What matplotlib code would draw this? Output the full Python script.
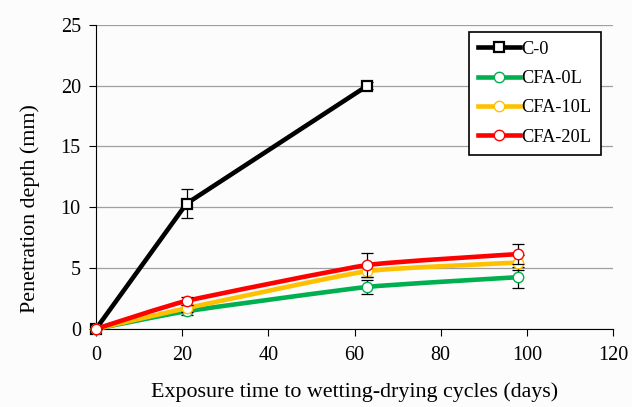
import numpy as np
import matplotlib
matplotlib.use("Agg")
import matplotlib.pyplot as plt
from matplotlib.path import Path
from matplotlib.patches import PathPatch
from matplotlib.lines import Line2D

plt.rcParams['font.family'] = ['Liberation Serif', 'DejaVu Serif']

# data
names = ["C-0", "CFA-0L", "CFA-10L", "CFA-20L"]
days_c0 = [0, 21, 63]
days = [0, 21, 63, 98]
depth_c0 = [0, 10.3, 20.0]
depth_0l = [0, 1.45, 3.45, 4.25]
depth_10l = [0, 1.7, 4.75, 5.45]
depth_20l = [0, 2.3, 5.25, 6.15]
err_c0 = [0, 1.2, 0.3]
err_0l = [0, 0.3, 0.55, 0.85]
err_10l = [0, 0.3, 0.5, 0.6]
err_20l = [0, 0.35, 0.95, 0.8]

colors = ["black", "#00B050", "#FFC000", "#FF0000"]


def smooth_path(x, y, t=0.07):
    # mildly smoothed line through the points (cubic Bezier segments)
    x = np.asarray(x, float)
    y = np.asarray(y, float)
    verts = [(x[0], y[0])]
    codes = [Path.MOVETO]
    n = len(x)
    for i in range(n - 1):
        p0 = (x[max(i - 1, 0)], y[max(i - 1, 0)])
        p1 = (x[i], y[i])
        p2 = (x[i + 1], y[i + 1])
        p3 = (x[min(i + 2, n - 1)], y[min(i + 2, n - 1)])
        c1 = (p1[0] + (p2[0] - p0[0]) * t, p1[1] + (p2[1] - p0[1]) * t)
        c2 = (p2[0] - (p3[0] - p1[0]) * t, p2[1] - (p3[1] - p1[1]) * t)
        verts += [c1, c2, p2]
        codes += [Path.CURVE4] * 3
    return Path(verts, codes)


fig = plt.figure(figsize=(6.32, 4.07), dpi=100)
fig.patch.set_facecolor("#fcfcfc")
ax = fig.add_axes([0.152, 0.192, 0.818, 0.747])
ax.set_facecolor("#fcfcfc")

series = [
    (days_c0, depth_c0, err_c0, "s"),
    (days, depth_0l, err_0l, "o"),
    (days, depth_10l, err_10l, "o"),
    (days, depth_20l, err_20l, "o"),
]

handles = []
for k, (xs, ys, es, mk) in enumerate(series):
    col = colors[k]
    lw = 3.3
    ms = 7.5 if mk == "o" else 6.5
    mew = 1.0 if mk == "o" else 1.6
    if mk == "o":
        patch = PathPatch(smooth_path(xs, ys), facecolor="none", edgecolor=col,
                          lw=lw, zorder=3 + k, capstyle="round", clip_on=False)
        ax.add_patch(patch)
    else:
        ax.plot(xs, ys, color=col, lw=lw, zorder=3 + k, clip_on=False)
    ax.errorbar(xs, ys, yerr=es, fmt="none", ecolor="black", elinewidth=0.9,
                capsize=4, capthick=0.9, zorder=3 + k)
    ax.plot(xs, ys, linestyle="none", marker=mk, ms=ms, mfc="white", mec=col,
            mew=mew, zorder=3 + k + 0.5, clip_on=False)
    handles.append(Line2D([], [], color=col, lw=lw, marker=mk, ms=ms,
                          mfc="white", mec=col, mew=mew))

ax.set_xlim(0, 120)
ax.set_ylim(0, 25)
ax.set_xticks(range(0, 121, 20))
ax.set_yticks(range(0, 26, 5))
ax.yaxis.grid(True, color="#a0a0a0", lw=0.9)
ax.set_axisbelow(True)
for s in ["top", "right"]:
    ax.spines[s].set_visible(False)
ax.tick_params(direction="out", length=5, labelsize=14.5, colors="black")
ax.tick_params(axis="x", pad=7)
ax.tick_params(axis="y", pad=6)
ax.set_xlabel("Exposure time to wetting-drying cycles (days)", fontsize=15.8)
ax.set_ylabel("Penetration depth (mm)", fontsize=15.8)
ax.xaxis.set_label_coords(0.5, -0.175)
ax.yaxis.set_label_coords(-0.108, 0.397)

leg = ax.legend(handles, names, loc="upper right", bbox_to_anchor=(0.983, 0.99),
                fontsize=13.2, frameon=True, fancybox=False, edgecolor="black",
                handlelength=2.3, handletextpad=0.05, labelspacing=0.67,
                borderpad=0.5, borderaxespad=0.2)
leg.get_frame().set_linewidth(1.2)
leg.get_frame().set_facecolor("white")
leg.get_frame().set_alpha(1)

fig.savefig("out.png", dpi=100, facecolor=fig.get_facecolor())
